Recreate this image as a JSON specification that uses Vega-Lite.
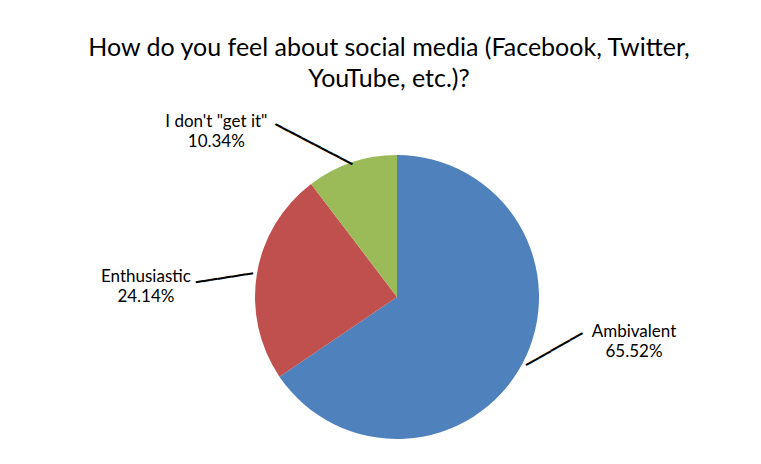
{
  "$schema": "https://vega.github.io/schema/vega-lite/v6.json",
  "width": 300,
  "height": 300,
  "autosize": {"type": "none"},
  "padding": {"left": 247, "top": 147, "right": 214, "bottom": 17},
  "background": "white",
  "config": {"view": {"stroke": null}, "font": "Lato"},
  "title": {
    "text": ["How do you feel about social media (Facebook, Twitter,", "YouTube, etc.)?"],
    "font": "Lato",
    "fontSize": 25,
    "fontWeight": "normal",
    "color": "#000000",
    "lineHeight": 31,
    "anchor": "middle",
    "dx": -8,
    "offset": 21
  },
  "data": {
    "values": [
      {"category": "Ambivalent", "share": 65.52, "label": "Ambivalent\n65.52%"},
      {"category": "Enthusiastic", "share": 24.14, "label": "Enthusiastic\n24.14%"},
      {"category": "I don't \"get it\"", "share": 10.34, "label": "I don't \"get it\"\n10.34%"}
    ]
  },
  "encoding": {
    "theta": {"field": "share", "type": "quantitative", "stack": true},
    "order": {"field": "category", "sort": "ascending"}
  },
  "layer": [
    {
      "mark": {"type": "arc", "outerRadius": 142},
      "encoding": {
        "color": {
          "field": "category",
          "type": "nominal",
          "scale": {
            "domain": ["Ambivalent", "Enthusiastic", "I don't \"get it\""],
            "range": ["#4F81BD", "#C0504D", "#9BBB59"]
          },
          "legend": null
        }
      }
    },
    {
      "mark": {"type": "text", "radius": 146, "font": "DejaVu Sans Mono", "fontSize": 12, "align": "left", "baseline": "middle", "angle": 330.3, "color": "#000000"},
      "encoding": {
        "detail": {"field": "category"},
        "text": {"condition": {"test": "datum.category === 'Ambivalent'", "value": "━━━━━━━━━"}, "value": ""}
      }
    },
    {
      "mark": {"type": "text", "radius": 146, "font": "DejaVu Sans Mono", "fontSize": 12, "align": "right", "baseline": "middle", "angle": 351, "color": "#000000"},
      "encoding": {
        "detail": {"field": "category"},
        "text": {"condition": {"test": "datum.category === 'Enthusiastic'", "value": "━━━━━━━━"}, "value": ""}
      }
    },
    {
      "mark": {"type": "text", "radius": 140, "font": "DejaVu Sans Mono", "fontSize": 12, "align": "right", "baseline": "middle", "angle": 27.5, "color": "#000000"},
      "encoding": {
        "detail": {"field": "category"},
        "text": {"condition": {"test": "datum.category === 'I don\\'t \"get it\"'", "value": "━━━━━━━━━━━━"}, "value": ""}
      }
    },
    {
      "mark": {"type": "text", "radius": 146, "font": "Lato", "fontSize": 17, "align": "center", "baseline": "middle", "lineBreak": "\n", "lineHeight": 20, "dx": 108, "dy": -33, "color": "#000000"},
      "encoding": {
        "detail": {"field": "category"},
        "text": {"condition": {"test": "datum.category === 'Ambivalent'", "field": "label"}, "value": ""}
      }
    },
    {
      "mark": {"type": "text", "radius": 146, "font": "Lato", "fontSize": 17, "align": "center", "baseline": "middle", "lineBreak": "\n", "lineHeight": 20, "dx": -107, "dy": 4, "color": "#000000"},
      "encoding": {
        "detail": {"field": "category"},
        "text": {"condition": {"test": "datum.category === 'Enthusiastic'", "field": "label"}, "value": ""}
      }
    },
    {
      "mark": {"type": "text", "radius": 140, "font": "Lato", "fontSize": 17, "align": "center", "baseline": "middle", "lineBreak": "\n", "lineHeight": 20, "dx": -136, "dy": -42, "color": "#000000"},
      "encoding": {
        "detail": {"field": "category"},
        "text": {"condition": {"test": "datum.category === 'I don\\'t \"get it\"'", "field": "label"}, "value": ""}
      }
    }
  ]
}
